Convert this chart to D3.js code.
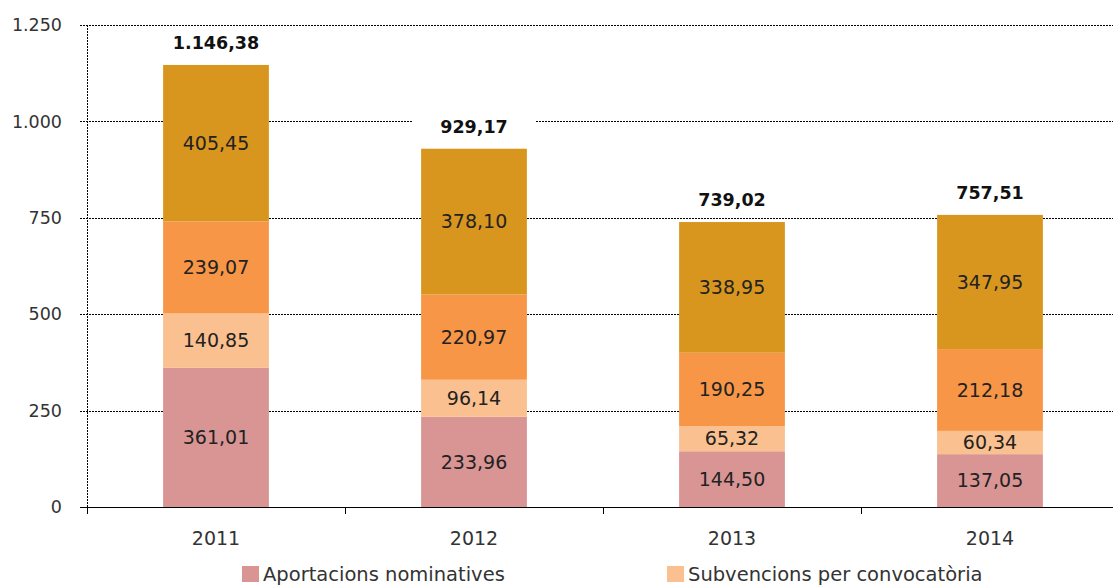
<!DOCTYPE html>
<html lang="ca">
<head>
    <meta charset="UTF-8">
    <title>Aportacions i subvencions</title>
    <script src="https://d3js.org/d3.v7.min.js"></script>
    <style>
        body { margin: 0; background: #fff; }
        svg { display: block; }
        text { font-family: "DejaVu Sans", sans-serif; fill: #222; }
    </style>
</head>
<body>
    <svg width="1113" height="585"></svg>

    <script>
        // Data
        const years = ["2011", "2012", "2013", "2014"];
        const seriesNames = ["Aportacions nominatives", "Subvencions per convocatòria", "Sèrie 3", "Sèrie 4"];
        const seriesColors = ["#d99594", "#fac090", "#f79646", "#d9961f"];
        const aportacions = [361.01, 233.96, 144.50, 137.05];
        const subvencions = [140.85, 96.14, 65.32, 60.34];
        const serie3 = [239.07, 220.97, 190.25, 212.18];
        const serie4 = [405.45, 378.10, 338.95, 347.95];
        const totals = [1146.38, 929.17, 739.02, 757.51];
        const yTicks = [0, 250, 500, 750, 1000, 1250];
        const legendShown = 2; // only the first row of the legend is visible

        const values = [aportacions, subvencions, serie3, serie4];
        const rows = years.map((y, i) => {
            const r = { year: y };
            seriesNames.forEach((s, k) => r[s] = values[k][i]);
            return r;
        });

        const locale = d3.formatLocale({ decimal: ",", thousands: ".", grouping: [3], currency: ["", " €"] });
        const fmt2 = locale.format(",.2f");
        const fmt0 = locale.format(",.0f");

        const svg = d3.select("svg");
        const x0 = 87, x1 = 87 + 258 * 4;
        const yZero = 507, yTop = 25;

        const x = d3.scaleBand().domain(years).range([x0, x1]).paddingInner(0.59).paddingOuter(0.295);
        const y = d3.scaleLinear().domain([0, 1250]).range([yZero, yTop]);

        const stack = d3.stack().keys(seriesNames)(rows);

        // Gridlines
        svg.append("g")
            .selectAll("line")
            .data(yTicks.filter(t => t > 0))
            .enter().append("line")
            .attr("x1", 80)
            .attr("x2", 1113)
            .attr("y1", d => Math.round(y(d)) + 0.5)
            .attr("y2", d => Math.round(y(d)) + 0.5)
            .attr("stroke", "#000")
            .attr("stroke-width", 1)
            .attr("stroke-dasharray", "2,1");

        // Y axis line (dashed)
        svg.append("line")
            .attr("x1", x0 + 0.5).attr("x2", x0 + 0.5)
            .attr("y1", yTop).attr("y2", yZero + 7)
            .attr("stroke", "#000")
            .attr("stroke-dasharray", "2,1");

        // Y tick labels
        svg.append("g")
            .selectAll("text")
            .data(yTicks)
            .enter().append("text")
            .attr("x", 62)
            .attr("y", d => y(d))
            .attr("dy", "0.35em")
            .attr("text-anchor", "end")
            .attr("font-size", "17.5px")
            .style("fill", "#333")
            .text(d => fmt0(d));

        // Bars
        svg.append("g")
            .selectAll("g")
            .data(stack)
            .enter().append("g")
            .attr("fill", (d, i) => seriesColors[i])
            .selectAll("rect")
            .data(d => d)
            .enter().append("rect")
            .attr("x", d => x(d.data.year))
            .attr("width", x.bandwidth())
            .attr("y", d => y(d[1]))
            .attr("height", d => y(d[0]) - y(d[1]));

        // Segment labels
        svg.append("g")
            .selectAll("g")
            .data(stack)
            .enter().append("g")
            .selectAll("text")
            .data(d => d)
            .enter().append("text")
            .attr("x", d => x(d.data.year) + x.bandwidth() / 2)
            .attr("y", d => (y(d[0]) + y(d[1])) / 2)
            .attr("dy", "0.35em")
            .attr("text-anchor", "middle")
            .attr("font-size", "19px")
            .text(d => fmt2(d[1] - d[0]));

        // Zero line and category ticks
        svg.append("line")
            .attr("x1", 80).attr("x2", 1113)
            .attr("y1", yZero + 0.5).attr("y2", yZero + 0.5)
            .attr("stroke", "#000");
        svg.append("g")
            .selectAll("line")
            .data(d3.range(years.length + 1))
            .enter().append("line")
            .attr("x1", i => x0 + 258 * i + 0.5)
            .attr("x2", i => x0 + 258 * i + 0.5)
            .attr("y1", yZero)
            .attr("y2", yZero + 7)
            .attr("stroke", "#000");

        // Category labels
        svg.append("g")
            .selectAll("text")
            .data(years)
            .enter().append("text")
            .attr("x", d => x(d) + x.bandwidth() / 2)
            .attr("y", 538)
            .attr("dy", "0.35em")
            .attr("text-anchor", "middle")
            .attr("font-size", "19px")
            .style("fill", "#333")
            .text(d => d);

        // Total labels with white boxes over the gridlines
        const totalG = svg.append("g")
            .selectAll("g")
            .data(years.map((yr, i) => ({ year: yr, total: totals[i], top: d3.sum(values, v => v[i]) })))
            .enter().append("g")
            .attr("transform", d => `translate(${x(d.year) + x.bandwidth() / 2},${y(d.top) - 22})`);
        totalG.append("rect")
            .attr("x", -62).attr("y", -14)
            .attr("width", 124).attr("height", 28)
            .attr("fill", "#fff");
        totalG.append("text")
            .attr("text-anchor", "middle")
            .attr("dy", "0.35em")
            .attr("font-size", "17.5px")
            .attr("font-weight", "bold")
            .style("fill", "#111")
            .text(d => fmt2(d.total));

        // Legend
        const legend = svg.append("g")
            .selectAll("g")
            .data(seriesNames.slice(0, legendShown))
            .enter().append("g")
            .attr("transform", (d, i) => `translate(${242 + i * 425},566)`);
        legend.append("rect")
            .attr("width", 17).attr("height", 16)
            .attr("fill", (d, i) => seriesColors[i]);
        legend.append("text")
            .attr("x", 21)
            .attr("y", 8)
            .attr("dy", "0.35em")
            .attr("font-size", "19.5px")
            .style("fill", "#333")
            .text(d => d);
    </script>
</body>
</html>
